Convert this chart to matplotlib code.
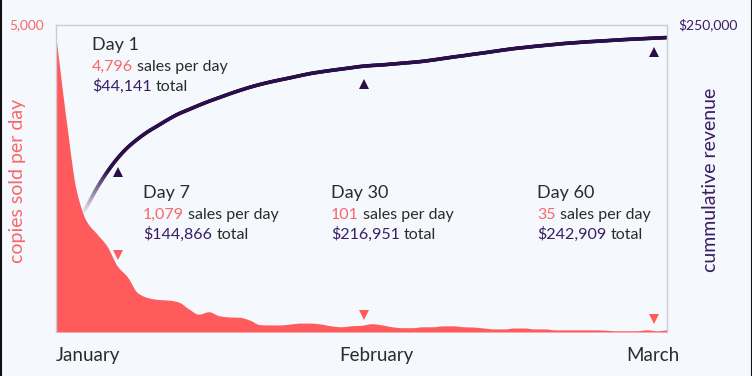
import numpy as np
import matplotlib
matplotlib.use("Agg")
import matplotlib.pyplot as plt
from matplotlib.collections import LineCollection
from matplotlib import transforms
from matplotlib.colors import to_rgb

# ---------------- data ----------------
days = list(range(0, 61))  # days since Jan 1
sales = [4796, 3450, 2300, 1800, 1600, 1400, 1079, 900, 640, 560,
         530, 520, 490, 380, 290, 330, 265, 245, 240, 195,
         120, 115, 115, 130, 145, 145, 130, 100, 85, 101,
         110, 135, 115, 85, 70, 70, 85, 85, 100, 100,
         85, 80, 65, 50, 50, 65, 65, 50, 50, 35,
         35, 35, 35, 35, 28, 20, 20, 20, 35, 20, 35]
revenue = [44141, 70000, 88000, 102000, 117000, 130000, 141000, 150000, 157000, 163000,
           168000, 173000, 177500, 181000, 184500, 187800, 190800, 193800, 196600, 199200,
           201500, 203500, 205300, 207000, 208800, 210500, 211800, 213000, 214100, 215200,
           216300, 217000, 217500, 218200, 218900, 219600, 220400, 221500, 222700, 223900,
           225000, 226200, 227300, 228500, 229700, 230800, 231700, 232600, 233400, 234200,
           235000, 235600, 236200, 236700, 237200, 237700, 238200, 238600, 239000, 239400, 239800]

month_ticks = [0, 31.5, 58.6]
month_labels = ["January", "February", "March"]

callout_titles = ["Day 1", "Day 7", "Day 30", "Day 60"]
callout_sales = ["4,796", "1,079", "101", "35"]
callout_totals = ["$44,141", "$144,866", "$216,951", "$242,909"]

marker_days = [6.1, 30.2, 58.7]
marker_sales = [1079, 101, 35]
marker_revenue = [144866, 216951, 242909]

# ---------------- style ----------------
BG = "#f5f8fc"
SALMON = "#ff5a5c"
SALMON_TXT = "#f7686a"
PURPLE = "#2a0f4a"
PURPLE_TXT = "#3b1d63"
DARK = "#2b2b2b"
GRID = "#c9cdd6"
plt.rcParams["font.family"] = ["Lato", "DejaVu Sans"]


def smooth(xs, ys, n=10):
    """Monotone cubic (Fritsch-Carlson) curve through the points, for drawing."""
    xs = np.asarray(xs, float)
    ys = np.asarray(ys, float)
    h = np.diff(xs)
    d = np.diff(ys) / h
    m = np.zeros_like(ys)
    m[0], m[-1] = d[0], d[-1]
    for i in range(1, len(ys) - 1):
        if d[i - 1] * d[i] <= 0:
            m[i] = 0
        else:
            w1 = 2 * h[i] + h[i - 1]
            w2 = h[i] + 2 * h[i - 1]
            m[i] = (w1 + w2) / (w1 / d[i - 1] + w2 / d[i])
    X, Y = [], []
    for i in range(len(xs) - 1):
        t = np.linspace(0, 1, n, endpoint=False)
        h00 = 2 * t**3 - 3 * t**2 + 1
        h10 = t**3 - 2 * t**2 + t
        h01 = -2 * t**3 + 3 * t**2
        h11 = t**3 - t**2
        X.append(xs[i] + t * h[i])
        Y.append(h00 * ys[i] + h10 * h[i] * m[i] + h01 * ys[i + 1] + h11 * h[i] * m[i + 1])
    X.append([xs[-1]])
    Y.append([ys[-1]])
    return np.concatenate(X), np.concatenate(Y)


W, H = 752, 376
fig = plt.figure(figsize=(W / 100, H / 100), dpi=100, facecolor=BG)

L, R, T, B = 56, 667, 25, 332
ax = fig.add_axes([L / W, 1 - B / H, (R - L) / W, (B - T) / H])
ax.set_xlim(0, 60)
ax.set_ylim(0, 5000)
ax2 = ax.twinx()
ax2.set_ylim(0, 250000)

for a in (ax, ax2):
    for s in a.spines.values():
        s.set_visible(False)
for s in ("left", "top", "right"):
    ax.spines[s].set_visible(True)
    ax.spines[s].set_color(GRID)
    ax.spines[s].set_linewidth(1.0)

# revenue line drawn behind the area, fading in
ax2.set_zorder(1)
ax.set_zorder(2)
ax.patch.set_visible(False)
ax2.patch.set_facecolor(BG)
xr, yr = smooth(days, revenue)
pts = np.column_stack([xr, yr]).reshape(-1, 1, 2)
segs = np.concatenate([pts[:-1], pts[1:]], axis=1)
bg_rgb = np.array(to_rgb(BG))
pu_rgb = np.array(to_rgb(PURPLE))
cols = []
for i in range(len(segs)):
    xm = 0.5 * (xr[i] + xr[i + 1])
    t = np.clip((xm - 2.6) / 2.6, 0, 1)
    cols.append(bg_rgb * (1 - t) + pu_rgb * t)
lc = LineCollection(segs, colors=cols, linewidths=2.6, capstyle="round", joinstyle="round")
ax2.add_collection(lc)

# sales area
xs, ys = smooth(days, sales)
ax.fill_between(xs, np.clip(ys, 0, None), 0, color=SALMON, linewidth=0, zorder=2)

# markers
off_up = transforms.offset_copy(ax.transData, fig=fig, x=0, y=11, units="dots")
ax.plot(marker_days, marker_sales, linestyle="none", marker="v", markersize=7,
        color=SALMON, markeredgewidth=0, transform=off_up, zorder=5, clip_on=False)
off_dn = transforms.offset_copy(ax2.transData, fig=fig, x=0, y=-18, units="dots")
ax.plot(marker_days, marker_revenue, linestyle="none", marker="^", markersize=7,
        color=PURPLE, markeredgewidth=0, transform=off_dn, zorder=5, clip_on=False)

# ticks
ax.set_yticks([])
ax2.set_yticks([])
ax.set_xticks(month_ticks)
ax.set_xticklabels(month_labels, fontsize=13.5, color=DARK)
ax.tick_params(axis="x", length=0, pad=11)
ax.get_xticklabels()[0].set_horizontalalignment("left")

fig.text(44 / W, 1 - 25 / H, "5,000", color=SALMON_TXT, fontsize=9.8, ha="right", va="center")
fig.text(678 / W, 1 - 25 / H, "$250,000", color=PURPLE_TXT, fontsize=10, ha="left", va="center")

fig.text(18 / W, 1 - 181 / H, "copies sold per day", color=SALMON_TXT, fontsize=14,
         rotation=90, ha="center", va="center")
fig.text(710 / W, 1 - 180 / H, "cummulative revenue", color=PURPLE_TXT, fontsize=14,
         rotation=90, ha="center", va="center")

# callouts
callout_pos = [(92, 50), (143, 198), (331, 198), (537, 198)]
for (px, py), title, s, tot in zip(callout_pos, callout_titles, callout_sales, callout_totals):
    fx = px / W
    fig.text(fx, 1 - py / H, title, fontsize=13, color=DARK, ha="left", va="baseline")
    t1 = fig.text(fx, 1 - (py + 21) / H, s, fontsize=11.5, color=SALMON_TXT, ha="left", va="baseline")
    ax.annotate("sales per day", xy=(1, 0), xycoords=t1, xytext=(3, 0), textcoords="offset points",
                fontsize=11.5, color=DARK, ha="left", va="bottom", annotation_clip=False)
    t2 = fig.text(fx, 1 - (py + 41) / H, tot, fontsize=11.5, color=PURPLE_TXT, ha="left", va="baseline")
    ax.annotate("total", xy=(1, 0), xycoords=t2, xytext=(3, 0), textcoords="offset points",
                fontsize=11.5, color=DARK, ha="left", va="bottom", annotation_clip=False)

# thin dark edges as in reference
fig.add_artist(plt.Line2D([0.5 / W, 0.5 / W], [0, 1], color="#111111", linewidth=1.5,
                          transform=fig.transFigure))
fig.add_artist(plt.Line2D([1 - 0.5 / W, 1 - 0.5 / W], [0, 1], color="#111111", linewidth=1.5,
                          transform=fig.transFigure))

fig.savefig("out.png", dpi=100, facecolor=BG)
